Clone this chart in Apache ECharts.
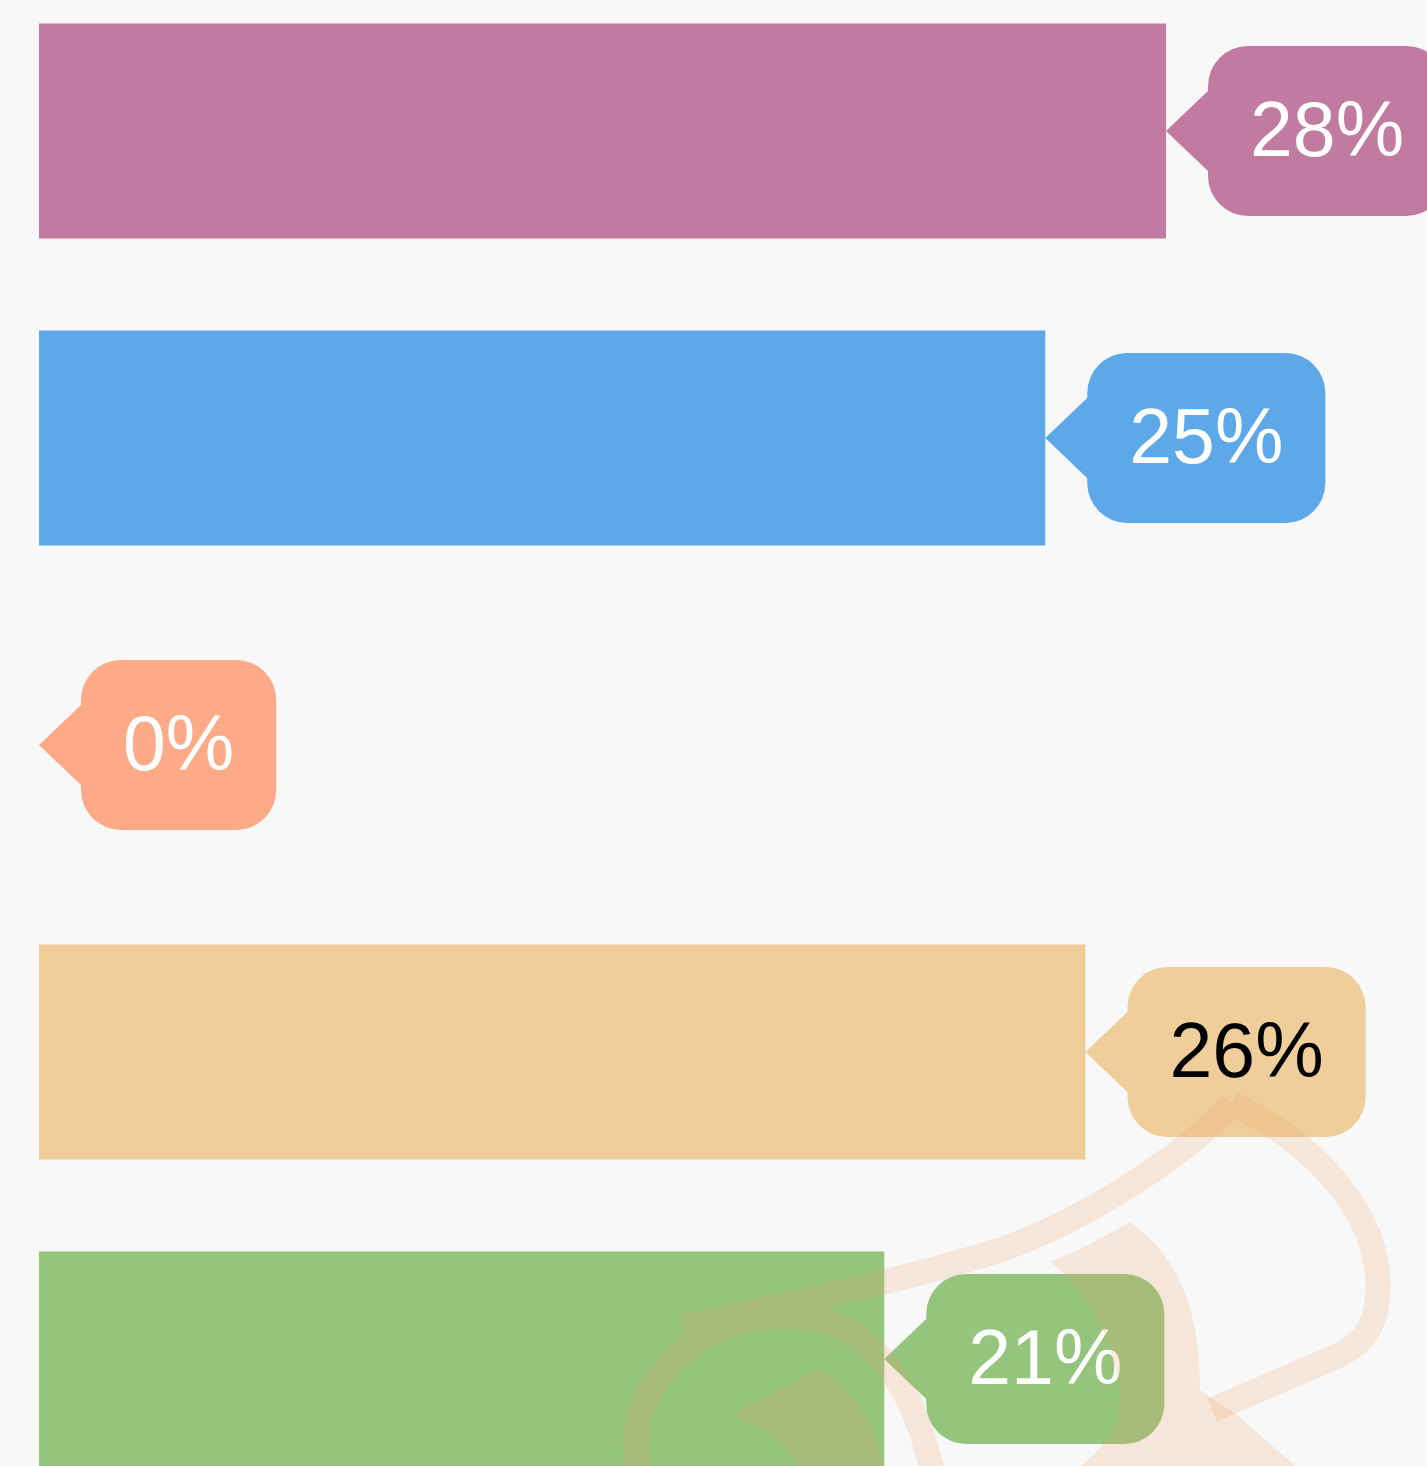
<!DOCTYPE html>
<html>
<head>
<meta charset="utf-8">
<title>bar</title>
<script src="https://cdn.jsdelivr.net/npm/echarts@6/dist/echarts.min.js"></script>
<style>
  html, body { margin: 0; padding: 0; background: #f8f8f8; }
  #barchart { width: 1427px; height: 1466px; }
</style>
</head>
<body>
<div id="barchart"></div>
<script>
// data
var categories = ['A', 'B', 'C', 'D', 'E'];
var values = [28, 25, 0, 26, 21];
var barColors = ['#c27ba0', '#5da8e8', '#fdaa88', '#efce9b', '#95c47d'];
var labelColors = ['#fff', '#fff', '#fff', '#000', '#fff'];

var chart = echarts.init(document.getElementById('barchart'));

// light watermark drawing in the lower right corner
var wmColor = 'rgba(238,160,100,0.2)';
var wmStroke = 'M640,1470 C628,1425 645,1378 695,1342 C740,1312 810,1308 850,1332 C895,1360 918,1410 932,1470 ' +
  'M682,1327 C760,1310 900,1282 1000,1250 C1080,1222 1180,1160 1232,1104 ' +
  'M1232,1104 C1310,1140 1378,1210 1378,1285 C1378,1328 1362,1343 1340,1355 L1212,1410';
var wmFill = 'M730,1415 L818,1369 C850,1385 875,1420 885,1470 L800,1470 C790,1445 760,1425 730,1415 Z ' +
  'M1050,1262 C1090,1292 1112,1340 1120,1390 C1122,1420 1112,1440 1077,1470 L1300,1470 L1237,1415 ' +
  'L1200,1390 C1200,1320 1185,1262 1130,1222 C1105,1236 1080,1250 1050,1262 Z';

var labelFont = '77px "Liberation Sans", Arial, sans-serif';

chart.setOption({
  backgroundColor: '#f8f8f8',
  animation: false,
  grid: {
    left: 39,
    right: 261,
    top: -22.5,
    bottom: -46.5,
    outerBoundsMode: 'none'
  },
  xAxis: {
    type: 'value',
    min: 0,
    max: 28,
    show: false
  },
  yAxis: {
    type: 'category',
    data: categories,
    inverse: true,
    show: false
  },
  series: [
    {
      type: 'bar',
      data: values,
      barCategoryGap: '30%',
      itemStyle: {
        color: function (p) { return barColors[p.dataIndex]; }
      }
    },
    {
      // callout labels with a little pointer
      type: 'custom',
      data: values.map(function (v, i) { return [v, i]; }),
      encode: { x: 0, y: 1 },
      z: 5,
      renderItem: function (params, api) {
        var i = params.dataIndex;
        var pt = api.coord([api.value(0), api.value(1)]);
        var x = pt[0], y = pt[1];
        var c = barColors[i];
        var txt = api.value(0) + '%';
        return {
          type: 'group',
          children: [
            {
              type: 'polygon',
              shape: { points: [[x, y], [x + 44, y - 42], [x + 44, y + 42]] },
              style: { fill: c }
            },
            {
              // the rounded box (text itself invisible)
              type: 'text',
              x: x + 42,
              y: y,
              style: {
                text: txt,
                fill: 'rgba(0,0,0,0)',
                font: labelFont,
                align: 'left',
                verticalAlign: 'middle',
                lineHeight: 78,
                backgroundColor: c,
                padding: [46, 42],
                borderRadius: 40
              }
            },
            {
              type: 'text',
              x: x + 84,
              y: y + 4,
              style: {
                text: txt,
                fill: labelColors[i],
                font: labelFont,
                align: 'left',
                verticalAlign: 'middle',
                lineHeight: 78
              }
            }
          ]
        };
      }
    },
    {
      // watermark, drawn on top of everything
      type: 'custom',
      coordinateSystem: 'none',
      data: [[0]],
      silent: true,
      z: 100,
      renderItem: function () {
        return {
          type: 'group',
          children: [
            {
              type: 'path',
              shape: { pathData: wmStroke },
              style: { fill: 'none', stroke: wmColor, lineWidth: 25 }
            },
            {
              type: 'path',
              shape: { pathData: wmFill },
              style: { fill: wmColor }
            }
          ]
        };
      }
    }
  ]
});
</script>
</body>
</html>
